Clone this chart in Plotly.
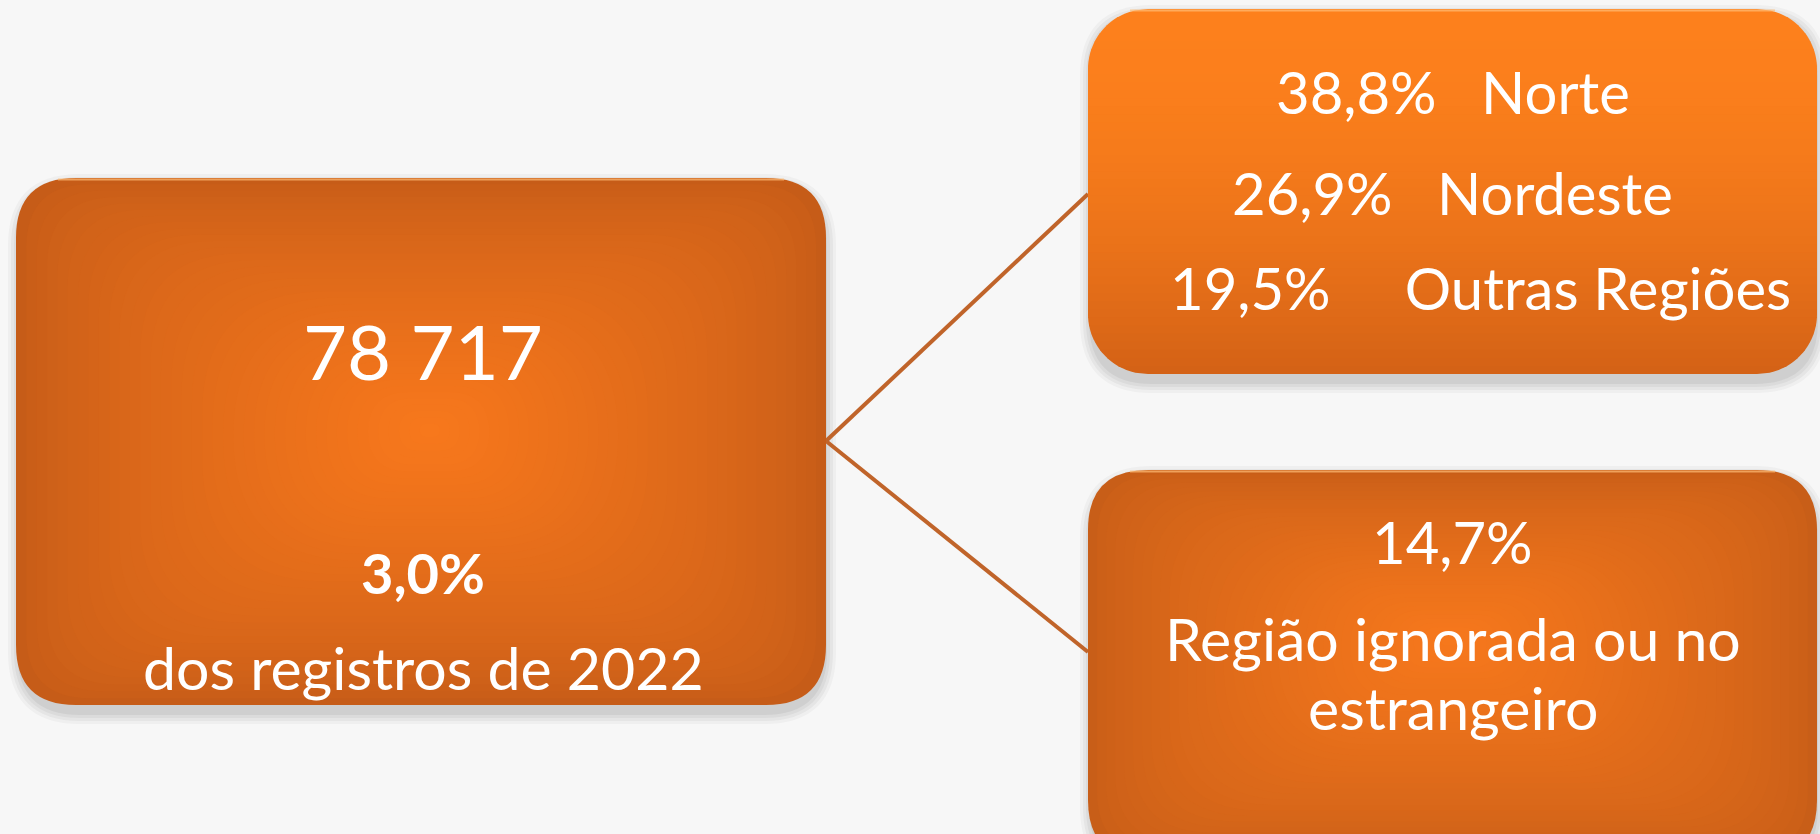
import plotly.graph_objects as go

# ---- data ----
total_records = 78717
share_of_year = 3.0
year = 2022
region_names = ["Norte", "Nordeste", "Outras Regiões"]
region_pcts = [38.8, 26.9, 19.5]
ignored_pct = 14.7
ignored_label = ["Região ignorada ou no", "estrangeiro"]

# ---- layout (pixel space) ----
W, H = 1820, 834
BG = "#f7f7f7"
FONT = "Lato"
left_box = (16, 178, 826, 705)
top_box = (1088, 9, 1817, 374)
bot_box = (1088, 470, 1817, 860)
RADIUS = 60


def fmt_pct(v):
    return f"{v:.1f}".replace(".", ",") + "%"


def fmt_int(v):
    return f"{v:,}".replace(",", " ")


def rrect(x0, y0, x1, y1, r):
    r = max(0.0, min(r, (x1 - x0) / 2, (y1 - y0) / 2))
    return (f"M {x0+r},{y0} L {x1-r},{y0} Q {x1},{y0} {x1},{y0+r} "
            f"L {x1},{y1-r} Q {x1},{y1} {x1-r},{y1} L {x0+r},{y1} "
            f"Q {x0},{y1} {x0},{y1-r} L {x0},{y0+r} Q {x0},{y0} {x0+r},{y0} Z")


def mix(c0, c1, t):
    return "rgb(%d,%d,%d)" % tuple(round(a + (b - a) * t) for a, b in zip(c0, c1))


shapes = []


def shadow(box):
    x0, y0, x1, y1 = box
    for i, op in enumerate([0.04, 0.05, 0.06, 0.07]):
        d = 12 - i * 3
        shapes.append(dict(type="path", path=rrect(x0 - d + 4, y0 - d + 8, x1 + d - 2, y1 + d + 7, RADIUS + d),
                           fillcolor=f"rgba(60,60,60,{op})", line=dict(width=0), layer="below"))


def radial_box(box, edge, center, n=40, cx=None, cy=None):
    x0, y0, x1, y1 = box
    cx = (x0 + x1) / 2 if cx is None else cx
    cy = (y0 + y1) / 2 if cy is None else cy
    for k in range(n):
        s = 1 - k / n
        t = (1 - s) ** 0.7
        bx0 = cx - (cx - x0) * s
        bx1 = cx + (x1 - cx) * s
        by0 = cy - (cy - y0) * s
        by1 = cy + (y1 - cy) * s
        shapes.append(dict(type="path", path=rrect(bx0, by0, bx1, by1, RADIUS * s + 200 * (1 - s)),
                           fillcolor=mix(edge, center, t), line=dict(width=0), layer="below"))


def inset_at(y, y0, y1, r):
    dy = 0
    if y < y0 + r:
        dy = y0 + r - y
    elif y > y1 - r:
        dy = y - (y1 - r)
    dy = min(dy, r)
    return r - (r * r - dy * dy) ** 0.5


def vertical_box(box, top, bottom, n=45):
    x0, y0, x1, y1 = box
    h = (y1 - y0) / n
    for k in range(n):
        t = k / (n - 1)
        ya = y0 + k * h
        yb = min(y1, ya + h + 0.8)
        m = 6
        ys = [ya + (yb - ya) * i / m for i in range(m + 1)]
        pts = [(x0 + inset_at(y, y0, y1, RADIUS), y) for y in ys]
        pts += [(x1 - inset_at(y, y0, y1, RADIUS), y) for y in reversed(ys)]
        path = "M " + " L ".join(f"{px:.2f},{py:.2f}" for px, py in pts) + " Z"
        shapes.append(dict(type="path", path=path,
                           fillcolor=mix(top, bottom, t ** 1.8), line=dict(width=0), layer="below"))


shadow(left_box)
shadow(top_box)
shadow(bot_box)

# connectors
lx = left_box[2]
ly = 441
for ty in [194, 652]:
    shapes.append(dict(type="line", x0=lx, y0=ly, x1=top_box[0], y1=ty,
                       line=dict(color="#c0642a", width=4), layer="below"))

radial_box(left_box, (198, 92, 24), (248, 120, 28), cx=430, cy=430)
radial_box(bot_box, (200, 94, 24), (247, 120, 28), cx=1450, cy=640)
vertical_box(top_box, (253, 128, 28), (212, 98, 22))

# top highlight lines
for box in [left_box, top_box, bot_box]:
    x0, y0, x1, y1 = box
    shapes.append(dict(type="path", path=f"M {x0+RADIUS*0.7},{y0+1.5} L {x1-RADIUS*0.7},{y0+1.5}",
                       line=dict(color="rgba(255,190,120,0.7)", width=2), layer="below"))

annotations = []


def txt(x, y, s, size, bold=False):
    annotations.append(dict(x=x, y=y, xref="x", yref="y", text=(f"<b>{s}</b>" if bold else s),
                            showarrow=False, xanchor="center", yanchor="middle",
                            font=dict(family=FONT, size=size, color="white")))


lcx = (left_box[0] + left_box[2]) / 2 + 2
txt(lcx, 350, fmt_int(total_records), 76)
txt(lcx, 572, fmt_pct(share_of_year), 56, bold=True)
txt(lcx, 667, f"dos registros de {year}", 59)

nb = "\u00a0"
gaps = [3, 3, 5]
ys = [91, 192, 287]
tcx = (top_box[0] + top_box[2]) / 2
xs = [tcx, tcx, tcx + 28]
for name, p, g, y, x in zip(region_names, region_pcts, gaps, ys, xs):
    txt(x, y, fmt_pct(p) + nb * g + name, 58)

bcx = (bot_box[0] + bot_box[2]) / 2
txt(bcx, 541, fmt_pct(ignored_pct), 58)
txt(bcx, 638, ignored_label[0], 59)
txt(bcx, 707, ignored_label[1], 59)

fig = go.Figure()
fig.add_trace(go.Scatter(x=[0, W], y=[0, H], mode="markers", marker=dict(opacity=0), hoverinfo="skip",
                         showlegend=False))
fig.update_layout(
    width=W, height=H, margin=dict(l=0, r=0, t=0, b=0),
    paper_bgcolor=BG, plot_bgcolor=BG,
    xaxis=dict(range=[0, W], visible=False, fixedrange=True),
    yaxis=dict(range=[H, 0], visible=False, fixedrange=True),
    shapes=shapes, annotations=annotations, showlegend=False,
)
fig.write_html("out.html", config={"displayModeBar": False},
               post_script="document.body.style.margin='0';document.body.style.padding='0';"
                           "document.body.style.overflow='hidden';document.body.style.background='%s';" % BG)
